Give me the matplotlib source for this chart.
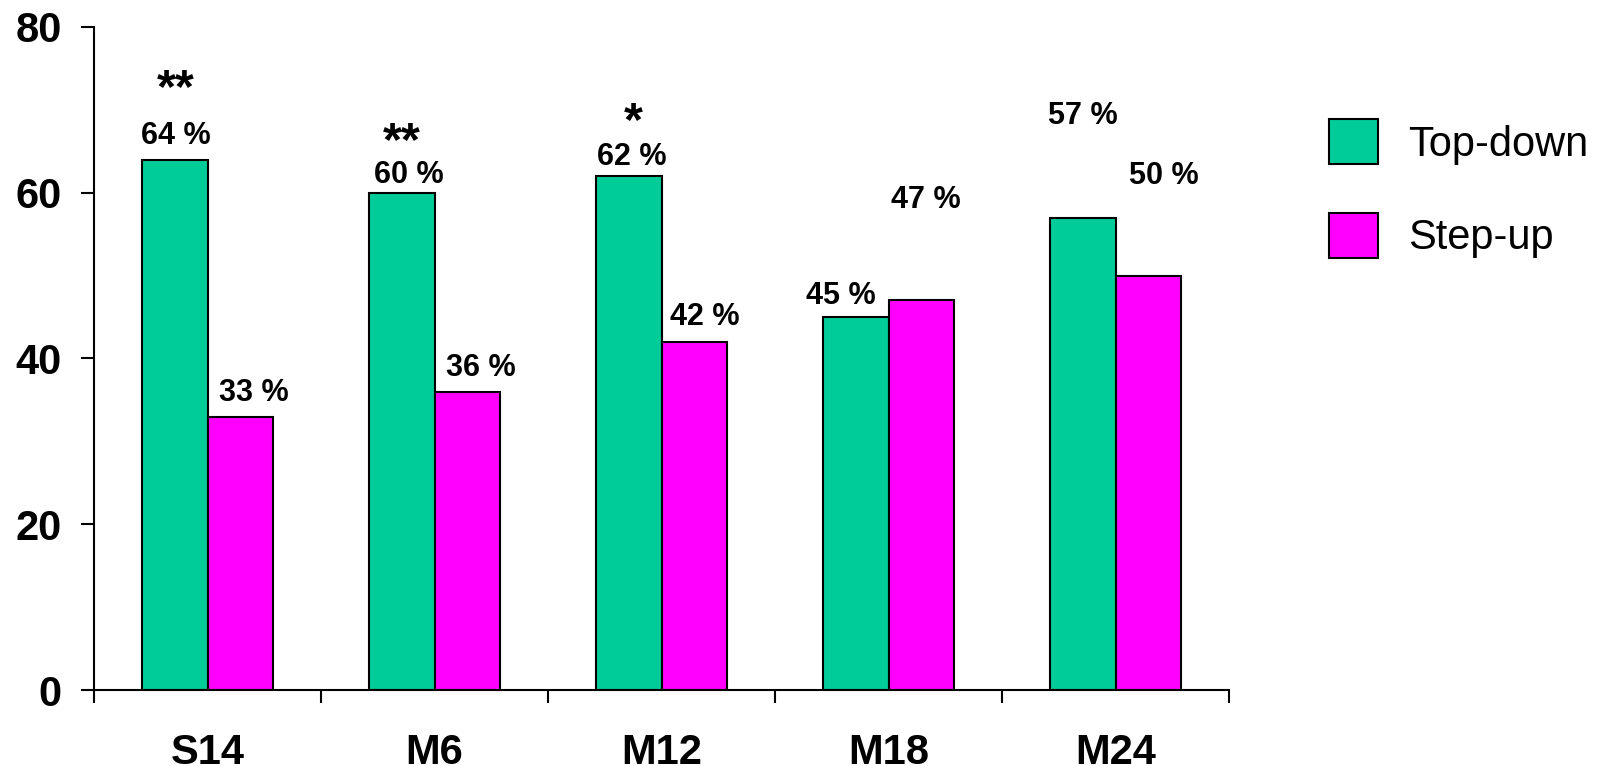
import numpy as np
import matplotlib
matplotlib.use('Agg')
import matplotlib.pyplot as plt
from matplotlib.patches import Patch

plt.rcParams['font.family'] = ['Liberation Sans', 'DejaVu Sans']

# data
categories = ['S14', 'M6', 'M12', 'M18', 'M24']
top_down = [64, 60, 62, 45, 57]
step_up = [33, 36, 42, 47, 50]
stars = ['**', '**', '*', '', '']
series_names = ['Top-down', 'Step-up']

# label placement (offsets above the bar, data units / pixels)
td_dy = [1.9, 1.2, 1.4, 1.6, 11.3]
su_dy = [1.9, 1.9, 2.1, 11.1, 11.0]
td_dx = [1, 7, 3, -15, 0]
su_dx = [13, 13, 10, 4, 15]
star_dy = [7.0, 4.5, 4.95, 0, 0]
star_dx = [1, 0, 5, 0, 0]

green = '#00CC99'
magenta = '#FF00FF'

fig = plt.figure(figsize=(16.04, 7.66), dpi=100)
ax = fig.add_axes([94/1604, 1-690/766, (1229-94)/1604, (690-27)/766])

x = np.arange(len(categories))
w = 0.29
ax.bar(x - w/2, top_down, w, color=green, edgecolor='black', linewidth=1.5)
ax.bar(x + w/2, step_up, w, color=magenta, edgecolor='black', linewidth=1.5)

for i in range(len(categories)):
    ax.annotate('%d %%' % top_down[i], (x[i] - w/2, top_down[i] + td_dy[i]),
                xytext=(td_dx[i], 0), textcoords='offset pixels',
                ha='center', va='baseline', fontsize=22, fontweight='bold')
    ax.annotate('%d %%' % step_up[i], (x[i] + w/2, step_up[i] + su_dy[i]),
                xytext=(su_dx[i], 0), textcoords='offset pixels',
                ha='center', va='baseline', fontsize=22, fontweight='bold')
    if stars[i]:
        ax.annotate(stars[i], (x[i] - w/2, top_down[i] + star_dy[i]),
                    xytext=(star_dx[i], 0), textcoords='offset pixels',
                    ha='center', va='baseline', fontsize=35, fontweight='bold')

ax.set_xlim(-0.5, len(categories) - 0.5)
ax.set_ylim(0, 80)
ax.set_yticks([0, 20, 40, 60, 80])
ax.set_xticks(x)
ax.set_xticklabels(categories)
ax.set_xticks(np.arange(len(categories) + 1) - 0.5, minor=True)

ax.tick_params(axis='x', which='major', length=0, pad=31, labelsize=30)
ax.tick_params(axis='x', which='minor', length=9.4, width=1.5, direction='out')
ax.tick_params(axis='y', length=9.4, width=1.5, direction='out', pad=14, labelsize=30)
for lab in ax.get_xticklabels() + ax.get_yticklabels():
    lab.set_fontweight('bold')

for s in ['top', 'right']:
    ax.spines[s].set_visible(False)
for s in ['left', 'bottom']:
    ax.spines[s].set_linewidth(1.5)

handles = [Patch(facecolor=green, edgecolor='black', linewidth=1.5),
           Patch(facecolor=magenta, edgecolor='black', linewidth=1.5)]
fig.legend(handles, series_names, loc='upper left',
           bbox_to_anchor=(1329/1604, 1-119/766), frameon=False,
           fontsize=30, handlelength=1.18, handleheight=1.3,
           handletextpad=0.72, labelspacing=1.15, borderpad=0, borderaxespad=0)

fig.savefig('out.png', dpi=100)
